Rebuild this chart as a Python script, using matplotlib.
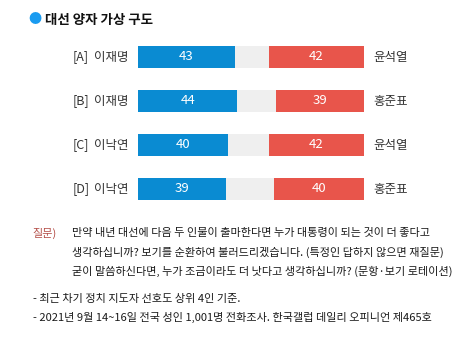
import matplotlib
matplotlib.use("Agg")
import matplotlib.pyplot as plt

plt.rcParams['font.family'] = ['Noto Sans CJK KR', 'DejaVu Sans']

# data
codes = ["[A]", "[B]", "[C]", "[D]"]
left_names = ["이재명", "이재명", "이낙연", "이낙연"]
right_names = ["윤석열", "홍준표", "윤석열", "홍준표"]
left_vals = [43, 44, 40, 39]
right_vals = [42, 39, 42, 40]

title = "대선 양자 가상 구도"
question = [
    "만약 내년 대선에 다음 두 인물이 출마한다면 누가 대통령이 되는 것이 더 좋다고",
    "생각하십니까? 보기를 순환하여 불러드리겠습니다. (특정인 답하지 않으면 재질문)",
    "굳이 말씀하신다면, 누가 조금이라도 더 낫다고 생각하십니까? (문항·보기 로테이션)",
]
notes = [
    "- 최근 차기 정치 지도자 선호도 상위 4인 기준.",
    "- 2021년 9월 14~16일 전국 성인 1,001명 전화조사. 한국갤럽 데일리 오피니언 제465호",
]

BLUE = "#0a8bd2"
RED = "#e8554b"
GRAY = "#efefef"

W, H = 471, 350
fig = plt.figure(figsize=(W / 100, H / 100), dpi=100)

# bar axes, placed in pixel terms
ax = fig.add_axes([138 / W, 1 - 211 / H, 226 / W, 176 / H])
ax.set_xlim(0, 100)
ax.set_ylim(3.5, -0.5)
ax.axis("off")

bh = 0.48
for i in range(len(codes)):
    ax.barh(i, 100, height=bh, color=GRAY)
    ax.barh(i, left_vals[i], height=bh, color=BLUE)
    ax.barh(i, right_vals[i], left=100 - right_vals[i], height=bh, color=RED)
    ax.text(left_vals[i] / 2, i, str(left_vals[i]), color="white",
            ha="center", va="center", fontsize=9.5, fontweight="medium")
    ax.text(100 - right_vals[i] / 2, i, str(right_vals[i]), color="white",
            ha="center", va="center", fontsize=9.5, fontweight="medium")
    ax.text(-29, i, codes[i], ha="left", va="center", fontsize=9, color="#333333")
    ax.text(-4, i, left_names[i], ha="right", va="center", fontsize=9, color="#333333")
    ax.text(104, i, right_names[i], ha="left", va="center", fontsize=9, color="#333333")

# title
fig.text(35 / W, 1 - 20 / H, "●", color="#1a9bf0", fontsize=9.5, ha="center", va="center")
fig.text(45 / W, 1 - 20 / H, title, fontsize=9.7, fontweight="bold", ha="left", va="center",
         color="#111111")

# question
fig.text(32 / W, 1 - 233 / H, "질문)", color="#b5504a", fontsize=8, ha="left", va="center")
for k, line in enumerate(question):
    fig.text(72 / W, 1 - (233 + 19 * k) / H, line, fontsize=8, ha="left", va="center",
             color="#1a1a1a")

for k, line in enumerate(notes):
    fig.text(33 / W, 1 - (299 + 18 * k) / H, line, fontsize=8, ha="left", va="center",
             color="#1a1a1a")

fig.savefig("out.png", dpi=100, facecolor="white")
